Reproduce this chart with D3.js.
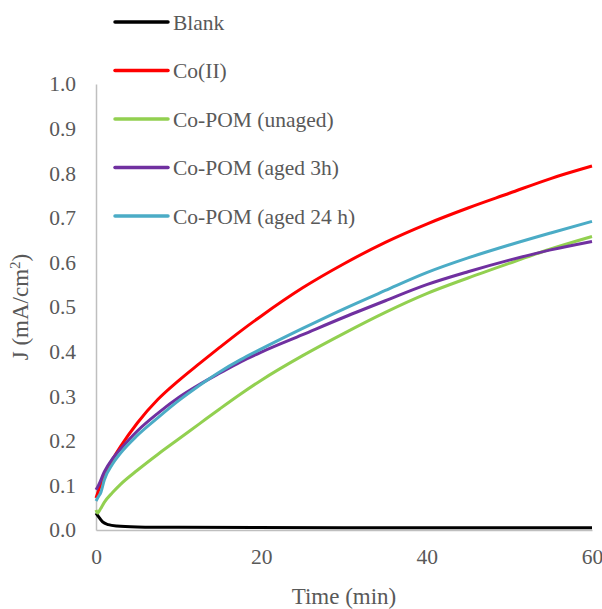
<!DOCTYPE html>
<html>
<head>
<meta charset="utf-8">
<script src="https://cdn.jsdelivr.net/npm/d3@7"></script>
<style>
  body { margin: 0; background: #fff; }
</style>
</head>
<body>
<div id="chart"></div>
<script>
const FONT = '"Liberation Serif"';

// series names and colours
const seriesNames = ['Blank', 'Co(II)', 'Co-POM (unaged)', 'Co-POM (aged 3h)', 'Co-POM (aged 24 h)'];
const seriesColors = ['#000000', '#ff0000', '#92d050', '#7030a0', '#4bacc6'];

// values: [time (min), J (mA/cm2)]
const blank = [[0, 0.038], [0.3, 0.03], [0.8, 0.018], [1.5, 0.012], [2.5, 0.009], [5, 0.007], [10, 0.006], [30, 0.005], [60, 0.005]];
const coII = [[0, 0.072], [0.3, 0.088], [1, 0.125], [2, 0.158], [3, 0.188], [5, 0.24], [7.5, 0.293], [10, 0.335], [12.5, 0.373],
  [15, 0.41], [17.5, 0.446], [20, 0.48], [25, 0.543], [30, 0.597], [35, 0.645], [40, 0.686], [45, 0.722], [50, 0.755], [55, 0.788], [60, 0.816]];
const unaged = [[0, 0.045], [0.2, 0.038], [0.5, 0.046], [1, 0.062], [2, 0.084], [3, 0.103], [5, 0.134], [7.5, 0.17], [10, 0.204],
  [12.5, 0.238], [15, 0.272], [17.5, 0.305], [20, 0.336], [25, 0.391], [30, 0.441], [35, 0.488], [40, 0.53], [45, 0.565], [50, 0.598], [55, 0.63], [60, 0.658]];
const aged3h = [[0, 0.09], [0.3, 0.1], [1, 0.13], [2, 0.16], [3, 0.182], [5, 0.222], [7.5, 0.262], [10, 0.297], [12.5, 0.326],
  [15, 0.352], [17.5, 0.377], [20, 0.399], [25, 0.438], [30, 0.477], [35, 0.514], [40, 0.55], [45, 0.579], [50, 0.605], [55, 0.628], [60, 0.647]];
const aged24h = [[0, 0.065], [0.3, 0.075], [0.6, 0.085], [1, 0.112], [2, 0.148], [3, 0.173], [5, 0.212], [7.5, 0.252], [10, 0.29],
  [12.5, 0.324], [15, 0.355], [17.5, 0.382], [20, 0.406], [25, 0.452], [30, 0.496], [35, 0.537], [40, 0.577], [45, 0.61], [50, 0.639], [55, 0.666], [60, 0.692]];

const xTicks = [0, 20, 40, 60];
const yTicks = [0, 0.1, 0.2, 0.3, 0.4, 0.5, 0.6, 0.7, 0.8, 0.9, 1.0];

const allSeries = [blank, coII, unaged, aged3h, aged24h];

const width = 602;
const height = 609;
const margin = { top: 84, right: 10, bottom: 79, left: 96 };

const svg = d3.select('#chart')
  .append('svg')
  .attr('width', width)
  .attr('height', height);

const x = d3.scaleLinear().domain([0, 60]).range([margin.left, width - margin.right]);
const y = d3.scaleLinear().domain([0, 1]).range([height - margin.bottom, margin.top]);

// axes (no tick marks, light grey line)
const xAxis = svg.append('g')
  .attr('transform', `translate(0,${y(0)})`)
  .call(d3.axisBottom(x).tickValues(xTicks).tickSize(0).tickPadding(19).tickFormat(d3.format('d')));
const yAxis = svg.append('g')
  .attr('transform', `translate(${x(0)},0)`)
  .call(d3.axisLeft(y).tickValues(yTicks).tickSize(0).tickPadding(20).tickFormat(d3.format('.1f')));

[xAxis, yAxis].forEach((g) => {
  g.select('.domain').attr('stroke', '#bfbfbf').attr('stroke-width', 1.5);
  g.selectAll('.tick text')
    .style('font-family', FONT)
    .style('font-size', '21.5px')
    .attr('fill', '#595959');
});

// lines
const line = d3.line()
  .x((d) => x(d[0]))
  .y((d) => y(d[1]))
  .curve(d3.curveMonotoneX);

allSeries.forEach((s, i) => {
  svg.append('path')
    .datum(s)
    .attr('fill', 'none')
    .attr('stroke', seriesColors[i])
    .attr('stroke-width', 3)
    .attr('stroke-linejoin', 'round')
    .attr('d', line);
});

// axis titles
svg.append('text')
  .attr('x', (x(0) + x(60)) / 2)
  .attr('y', 604)
  .attr('text-anchor', 'middle')
  .attr('fill', '#595959')
  .style('font-family', FONT)
  .style('font-size', '23px')
  .text('Time (min)');

const yTitle = svg.append('text')
  .attr('transform', `translate(28,${(y(0) + y(1)) / 2}) rotate(-90)`)
  .attr('text-anchor', 'middle')
  .attr('fill', '#595959')
  .style('font-family', FONT)
  .style('font-size', '23px');
yTitle.append('tspan').text('J (mA/cm');
yTitle.append('tspan').attr('baseline-shift', 'super').style('font-size', '15px').text('2');
yTitle.append('tspan').text(')');

// legend
const legend = svg.append('g');
seriesNames.forEach((name, i) => {
  const ly = 22 + i * 48.5;
  legend.append('line')
    .attr('x1', 115).attr('x2', 168)
    .attr('y1', ly).attr('y2', ly)
    .attr('stroke', seriesColors[i])
    .attr('stroke-width', 3.5)
    .attr('stroke-linecap', 'round');
  legend.append('text')
    .attr('x', 173)
    .attr('y', ly)
    .attr('dy', '0.35em')
    .attr('fill', '#595959')
    .style('font-family', FONT)
    .style('font-size', '21.5px')
    .text(name);
});
</script>
</body>
</html>
